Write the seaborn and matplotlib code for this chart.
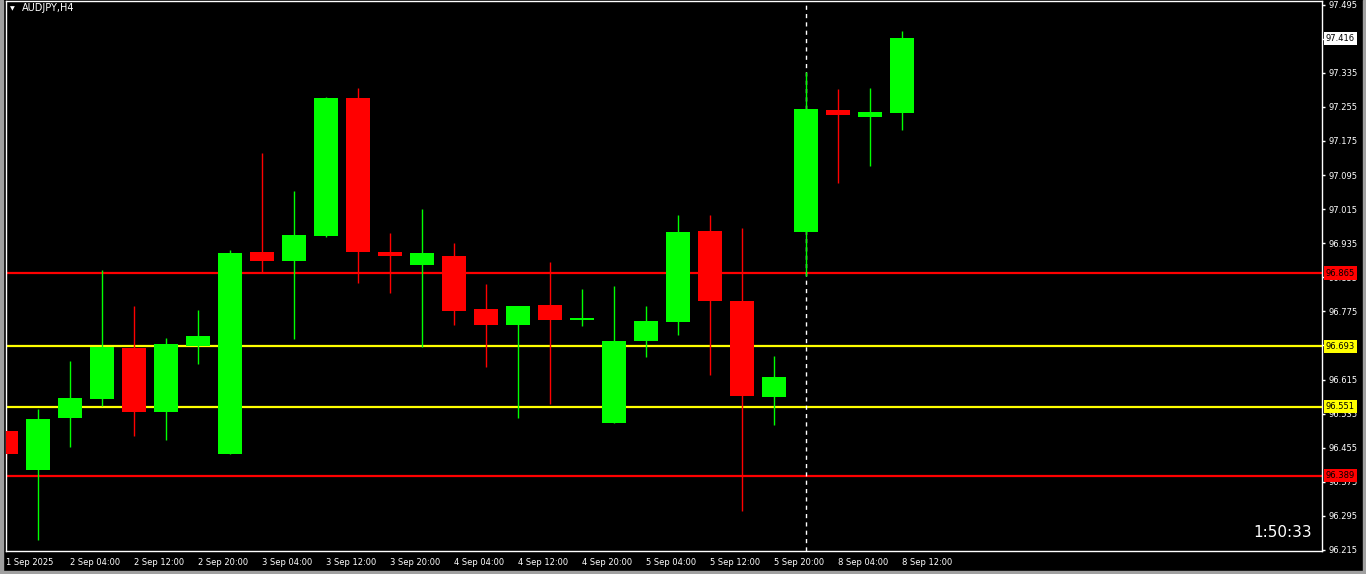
import matplotlib
matplotlib.use("Agg")
import matplotlib.pyplot as plt
import matplotlib.transforms as mtransforms
from matplotlib.patches import Rectangle
import numpy as np
import seaborn as sns

# AUDJPY H4 candles
symbol = "AUDJPY,H4"
timer = "1:50:33"

opens  = [96.494, 96.403, 96.525, 96.570, 96.689, 96.539, 96.694, 96.441, 96.914, 96.894,
          96.953, 97.276, 96.914, 96.884, 96.905, 96.780, 96.744, 96.790, 96.755, 96.513,
          96.706, 96.751, 96.964, 96.799, 96.574, 96.962, 97.248, 97.231, 97.241]
highs  = [96.497, 96.546, 96.658, 96.872, 96.788, 96.712, 96.778, 96.919, 97.147, 97.058,
          97.278, 97.299, 96.959, 97.015, 96.935, 96.839, 96.788, 96.891, 96.827, 96.834,
          96.788, 97.001, 97.001, 96.971, 96.670, 97.337, 97.297, 97.299, 97.433]
lows   = [96.429, 96.239, 96.457, 96.553, 96.483, 96.474, 96.652, 96.441, 96.866, 96.711,
          96.950, 96.842, 96.819, 96.692, 96.744, 96.645, 96.525, 96.558, 96.741, 96.513,
          96.668, 96.720, 96.626, 96.307, 96.509, 96.858, 97.076, 97.116, 97.201]
closes = [96.441, 96.522, 96.571, 96.691, 96.539, 96.698, 96.717, 96.912, 96.894, 96.954,
          97.276, 96.914, 96.905, 96.912, 96.776, 96.744, 96.788, 96.755, 96.759, 96.705,
          96.752, 96.961, 96.800, 96.577, 96.621, 97.250, 97.236, 97.243, 97.416]

tick_idx = list(range(0, 29, 2))
tick_labels = ["1 Sep 2025", "2 Sep 04:00", "2 Sep 12:00", "2 Sep 20:00", "3 Sep 04:00",
               "3 Sep 12:00", "3 Sep 20:00", "4 Sep 04:00", "4 Sep 12:00", "4 Sep 20:00",
               "5 Sep 04:00", "5 Sep 12:00", "5 Sep 20:00", "8 Sep 04:00", "8 Sep 12:00"]
price_ticks = [96.215 + 0.08 * k for k in range(17)]

red_levels = [96.865, 96.389]
yellow_levels = [96.693, 96.551]
last_price = 97.416
separator_idx = 25

sns.set_theme(style="dark", rc={
    "figure.facecolor": "black",
    "axes.facecolor": "black",
    "axes.edgecolor": "white",
    "xtick.color": "white",
    "ytick.color": "white",
})
plt.rcParams["font.family"] = ["DejaVu Sans"]

fig = plt.figure(figsize=(13.66, 5.74), dpi=100)
ax = fig.add_axes([6 / 1366, 23 / 574, 1316 / 1366, 550 / 574])

x = np.arange(len(opens))
o = np.array(opens)
c = np.array(closes)
up = c >= o
cols = np.where(up, "#00ff00", "#ff0000")

# level lines + period separator, behind the candles
for lv in red_levels:
    ax.axhline(lv, color="#ff0000", lw=1.6, zorder=1)
for lv in yellow_levels:
    ax.axhline(lv, color="#ffff00", lw=1.6, zorder=1)
ax.axvline(separator_idx, color="white", lw=1, ls=(0, (3, 3)), zorder=1)

ax.vlines(x, lows, highs, colors=cols, lw=1, zorder=2)
body = np.maximum(np.abs(c - o), 0.002)
ax.bar(x, body, bottom=np.minimum(o, c), width=0.78, color=cols, lw=0, zorder=3)

ax.set_xlim(0, 1316 / 32)
ax.set_ylim(96.2125, 97.5035)

for s in ax.spines.values():
    s.set_color("white")
    s.set_linewidth(1)

ax.set_xticks(tick_idx)
ax.set_xticklabels(tick_labels, ha="left")
ax.yaxis.tick_right()
ax.set_yticks(price_ticks)
ax.set_yticklabels([f"{p:.3f}" for p in price_ticks])
ax.tick_params(axis="both", length=2.4, width=1, labelsize=6, labelcolor="white", pad=2)
ax.tick_params(axis="x", pad=2.5)
ax.grid(False)

# price boxes on the right scale
trans = mtransforms.blended_transform_factory(ax.transAxes, ax.transData)
boxes = [(last_price, "white")] + [(lv, "#ff0000") for lv in red_levels] + \
        [(lv, "#ffff00") for lv in yellow_levels]
for p, fc in boxes:
    ax.annotate(f"{p:.3f}", xy=(1, p), xycoords=trans, xytext=(2.6, 0),
                textcoords="offset points", ha="left", va="center", fontsize=6,
                color="black", annotation_clip=False, zorder=10,
                bbox=dict(boxstyle="square,pad=0.25", fc=fc, ec="none"))

# symbol caption and countdown
fig.text(12.5 / 1366, 1 - 9 / 574, "\u25bc", color="white", fontsize=4.5, ha="center", va="center")
fig.text(22 / 1366, 1 - 8 / 574, symbol, color="white", fontsize=7, ha="left", va="center")
ax.text(0.9924, 0.033, timer, transform=ax.transAxes, color="white", fontsize=11,
        ha="right", va="center")

# grey window frame
for rect in [(0, 0, 3, 574), (0, 0, 1366, 3), (1363, 0, 3, 574)]:
    fig.patches.append(Rectangle((rect[0] / 1366, rect[1] / 574), rect[2] / 1366, rect[3] / 574,
                                 transform=fig.transFigure, color="#a0a0a0", zorder=0))

fig.savefig("out.png", dpi=100, facecolor="black")
